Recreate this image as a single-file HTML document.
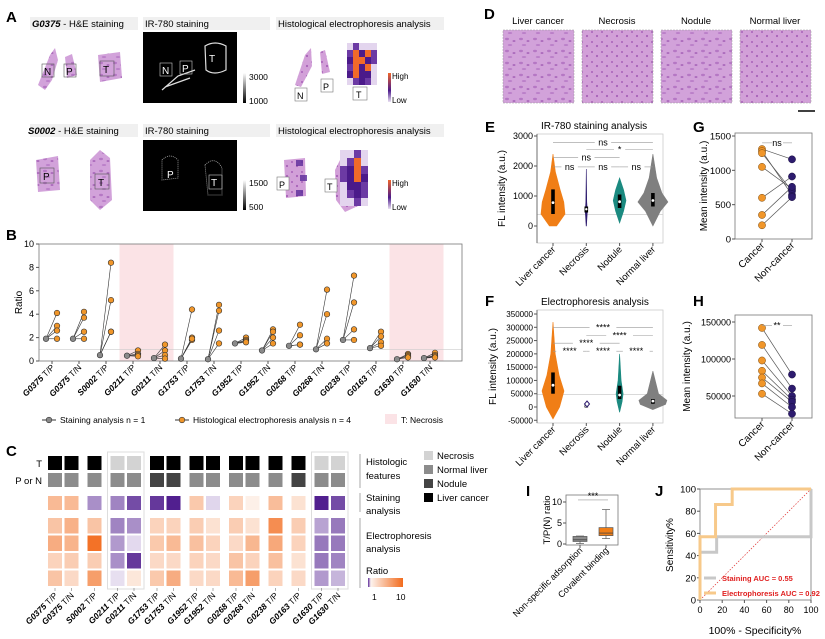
<!DOCTYPE html>
<html><head><meta charset="utf-8"><style>
html,body{margin:0;padding:0;background:#fff}
svg{display:block;font-family:"Liberation Sans",Arial,sans-serif}
</style></head><body>
<svg id="fig" width="825" height="639" viewBox="0 0 825 639" xmlns="http://www.w3.org/2000/svg">
<defs>
<pattern id="he" width="14" height="12" patternUnits="userSpaceOnUse">
<rect width="14" height="12" fill="#d2a2da"/>
<ellipse cx="3" cy="3" rx="2" ry="1.2" fill="#b577c4"/>
<ellipse cx="10" cy="5" rx="1.5" ry="1" fill="#ad6dbd"/>
<ellipse cx="6" cy="9" rx="2.2" ry="1" fill="#bb80c9"/>
</pattern>
<pattern id="he2" width="10" height="10" patternUnits="userSpaceOnUse">
<rect width="10" height="10" fill="#d2a0d8"/>
<circle cx="2" cy="2" r="1" fill="#a862b8"/><circle cx="7" cy="6" r="1.1" fill="#a862b8"/>
</pattern>
<linearGradient id="gcb" x1="0" y1="1" x2="0" y2="0"><stop offset="0" stop-color="#000"/><stop offset="1" stop-color="#fff"/></linearGradient>
<linearGradient id="hlcb" x1="0" y1="1" x2="0" y2="0"><stop offset="0" stop-color="#e9dff2"/><stop offset="0.4" stop-color="#4b1a8a"/><stop offset="1" stop-color="#f0652a"/></linearGradient>
<linearGradient id="rcb" x1="0" y1="0" x2="1" y2="0"><stop offset="0" stop-color="#5b2a9a"/><stop offset="0.08" stop-color="#fdf3ee"/><stop offset="1" stop-color="#f26b1d"/></linearGradient>
</defs>

<g>
<text x="6" y="22" font-size="15" font-weight="bold">A</text>
<rect x="30" y="17" width="108" height="13" fill="#f0f0f0"/>
<text x="32" y="27" font-size="9.5"><tspan font-weight="bold" font-style="italic">G0375</tspan> - H&amp;E staining</text>
<rect x="143" y="17" width="127" height="13" fill="#f0f0f0"/>
<text x="145" y="27" font-size="9.5">IR-780 staining</text>
<rect x="276" y="17" width="168" height="13" fill="#f0f0f0"/>
<text x="278" y="27" font-size="9.5">Histological electrophoresis analysis</text>
<path d="M38 85 L50 55 L55 48 L58 60 L52 80 L45 90 Z" fill="url(#he)"/>
<path d="M65 57 L72 54 L77 75 L67 78 Z" fill="url(#he)"/>
<path d="M98 55 L120 52 L122 78 L100 82 Z" fill="url(#he)"/>
<rect x="42" y="64" width="12" height="13" fill="none" stroke="#555" stroke-width="0.6"/><text x="44" y="75" font-size="10">N</text>
<rect x="64" y="64" width="12" height="13" fill="none" stroke="#555" stroke-width="0.6"/><text x="66" y="75" font-size="10">P</text>
<rect x="100" y="61" width="14" height="15" fill="none" stroke="#555" stroke-width="0.6"/><text x="103" y="73" font-size="10">T</text>
<rect x="143" y="32" width="94" height="71" fill="#000"/>
<path d="M162 90 L178 76 L195 70 M165 87 L190 78 M205 46 Q215 40 226 46 L226 70 Q214 76 206 70 Z" stroke="#ddd" stroke-width="1.2" fill="none"/>
<rect x="160" y="63" width="12" height="13" fill="none" stroke="#ccc" stroke-width="0.6"/><text x="162" y="74" font-size="10" fill="#fff">N</text>
<rect x="180" y="61" width="12" height="13" fill="none" stroke="#ccc" stroke-width="0.6"/><text x="182" y="72" font-size="10" fill="#fff">P</text>
<text x="209" y="62" font-size="10" fill="#fff">T</text>
<rect x="243" y="73" width="3" height="30" fill="url(#gcb)"/>
<text x="249" y="80" font-size="8.5">3000</text><text x="249" y="104" font-size="8.5">1000</text>
<path d="M295 85 L305 55 L311 48 L312 66 L301 87 Z" fill="url(#he2)"/>
<path d="M320 52 L325 50 L330 72 L322 74 Z" fill="url(#he2)"/>
<g id="hm1"></g>
<rect x="295" y="88" width="12" height="13" fill="#fff" stroke="#777" stroke-width="0.6"/><text x="297" y="99" font-size="9">N</text>
<rect x="321" y="79" width="12" height="13" fill="#fff" stroke="#777" stroke-width="0.6"/><text x="323" y="90" font-size="9">P</text>
<rect x="353" y="87" width="14" height="13" fill="#fff" stroke="#777" stroke-width="0.6"/><text x="356" y="98" font-size="9">T</text>
<rect x="388" y="73" width="3" height="29" fill="url(#hlcb)"/>
<text x="392" y="79" font-size="8">High</text><text x="392" y="103" font-size="8">Low</text>

<rect x="30" y="124" width="108" height="13" fill="#f0f0f0"/>
<text x="28" y="134" font-size="9.5"><tspan font-weight="bold" font-style="italic">S0002</tspan> - H&amp;E staining</text>
<rect x="143" y="124" width="127" height="13" fill="#f0f0f0"/>
<text x="145" y="134" font-size="9.5">IR-780 staining</text>
<rect x="276" y="124" width="168" height="13" fill="#f0f0f0"/>
<text x="278" y="134" font-size="9.5">Histological electrophoresis analysis</text>
<path d="M36 160 L58 156 L60 190 L38 192 Z" fill="url(#he)"/>
<path d="M90 160 L100 150 L110 158 L112 200 L100 210 L90 200 Z" fill="url(#he)"/>
<rect x="40" y="168" width="14" height="15" fill="none" stroke="#555" stroke-width="0.6"/><text x="43" y="180" font-size="10">P</text>
<rect x="95" y="174" width="14" height="15" fill="none" stroke="#555" stroke-width="0.6"/><text x="98" y="186" font-size="10">T</text>
<rect x="143" y="140" width="94" height="71" fill="#000"/>
<path d="M162 160 Q170 152 178 160 L178 178 L162 180 Z M205 165 Q215 155 222 168 L222 195 L208 195 Z" stroke="#aaa" stroke-width="0.8" fill="none" stroke-dasharray="1 1"/>
<text x="167" y="178" font-size="10" fill="#fff">P</text>
<rect x="209" y="175" width="13" height="14" fill="none" stroke="#ccc" stroke-width="0.6"/><text x="211" y="186" font-size="10" fill="#fff">T</text>
<rect x="243" y="180" width="3" height="30" fill="url(#gcb)"/>
<text x="249" y="186" font-size="8.5">1500</text><text x="249" y="210" font-size="8.5">500</text>
<path d="M284 160 L305 158 L306 196 L286 198 Z" fill="url(#he2)"/>
<path d="M335 170 L345 150 L356 160 L360 205 L345 212 L336 200 Z" fill="url(#he2)"/>
<g id="hm2"></g>
<rect x="277" y="177" width="12" height="13" fill="#fff" stroke="#777" stroke-width="0.6"/><text x="279" y="188" font-size="9">P</text>
<rect x="325" y="179" width="12" height="13" fill="#fff" stroke="#777" stroke-width="0.6"/><text x="327" y="190" font-size="9">T</text>
<rect x="388" y="180" width="3" height="29" fill="url(#hlcb)"/>
<text x="392" y="186" font-size="8">High</text><text x="392" y="210" font-size="8">Low</text>
</g>

<g id="pb">
<text x="6" y="240" font-size="15" font-weight="bold">B</text>
</g>
<g id="pc">
<text x="6" y="456" font-size="15" font-weight="bold">C</text>
</g>

<g>
<text x="484" y="19" font-size="15" font-weight="bold">D</text>
<text x="538" y="24" font-size="9.5" text-anchor="middle">Liver cancer</text>
<text x="617" y="24" font-size="9.5" text-anchor="middle">Necrosis</text>
<text x="696" y="24" font-size="9.5" text-anchor="middle">Nodule</text>
<text x="775" y="24" font-size="9.5" text-anchor="middle">Normal liver</text>
<rect x="503" y="30" width="71" height="73" fill="url(#he)" stroke="#999" stroke-dasharray="2 1" stroke-width="0.5"/>
<rect x="582" y="30" width="71" height="73" fill="url(#he2)" stroke="#999" stroke-dasharray="2 1" stroke-width="0.5"/>
<rect x="661" y="30" width="71" height="73" fill="url(#he)" stroke="#999" stroke-dasharray="2 1" stroke-width="0.5"/>
<rect x="740" y="30" width="71" height="73" fill="url(#he2)" stroke="#999" stroke-dasharray="2 1" stroke-width="0.5"/>
<line x1="798" y1="111" x2="815" y2="111" stroke="#000" stroke-width="1.5"/>
</g>

<g id="pe"><text x="485" y="132" font-size="15" font-weight="bold">E</text></g>
<g id="pf"><text x="485" y="306" font-size="15" font-weight="bold">F</text></g>
<g id="pg"><text x="693" y="132" font-size="15" font-weight="bold">G</text></g>
<g id="ph"><text x="693" y="306" font-size="15" font-weight="bold">H</text></g>
<g id="pi"><text x="526" y="496" font-size="15" font-weight="bold">I</text></g>
<g id="pj"><text x="655" y="496" font-size="15" font-weight="bold">J</text></g>
</svg>

<script>
const bCategories = ["G0375 T/P","G0375 T/N","S0002 T/P","G0211 T/P","G0211 T/N","G1753 T/P","G1753 T/N","G1952 T/P","G1952 T/N","G0268 T/P","G0268 T/N","G0238 T/P","G0163 T/P","G1630 T/P","G1630 T/N"];
const bStaining = [1.9,1.9,0.5,0.45,0.25,0.2,0.15,1.5,0.9,1.3,1.0,1.8,1.1,0.15,0.25];
const bElectro = [[4.1,3.0,2.6,1.9],[4.2,3.7,2.5,1.9],[8.4,5.2,2.5,2.5],[0.9,0.6,0.5,0.4],[1.4,0.9,0.5,0.2],[4.4,2.0,1.8,1.9],[4.8,4.3,2.6,1.5],[2.0,1.8,1.7,1.6],[2.7,2.5,2.0,1.5],[3.1,2.2,1.4,1.4],[6.1,4.0,1.9,1.5],[7.3,5.0,2.7,1.8],[2.5,2.1,1.6,1.3],[0.6,0.5,0.4,0.3],[0.7,0.5,0.4,0.3]];
const bNecrosis = [3,4,13,14];
const bYTicks = [0,2,4,6,8,10];
const cTumorFeature = ["cancer","cancer","cancer","necrosis","necrosis","cancer","cancer","cancer","cancer","cancer","cancer","cancer","cancer","necrosis","necrosis"];
const cPairFeature = ["normal","normal","normal","normal","normal","nodule","nodule","normal","normal","normal","normal","normal","nodule","normal","normal"];
const cElectro = [[1.6,2.4],[2.2,2.1],[1.6,8.5],[0.45,0.55],[0.5,0.92],[1.3,1.5],[1.3,1.9],[1.4,1.7],[1.1,1.3],[1.4,1.2],[1.1,2.0],[4.5,2.6],[1.4,1.3],[0.6,0.4],[0.4,0.4]];
const cElectro2 = [[1.3,1.6],[1.4,1.2],[1.4,3.2],[0.5,0.95],[0.2,1.05],[1.2,1.5],[1.2,2.4],[1.3,1.2],[1.2,1.2],[1.6,1.9],[1.3,3.2],[1.7,1.3],[1.1,1.2],[0.4,0.55],[0.45,0.7]];
const eCats = ["Liver cancer","Necrosis","Nodule","Normal liver"];
const eMedian = [780,560,810,850];
const eQ1 = [400,450,600,650];
const eQ3 = [1220,650,1050,1100];
const eMin = [0,0,100,0];
const eMax = [2400,1900,1600,2400];
const eWidth = [[0,0.3],[400,1],[800,0.9],[1200,0.6],[1800,0.2],[2400,0]];
const eWidthN = [[0,0.05],[500,0.35],[800,0.15],[1900,0]];
const eWidthNod = [[100,0],[500,0.5],[850,0.8],[1200,0.5],[1600,0]];
const eWidthNorm = [[0,0],[500,0.5],[800,1],[1100,0.6],[1600,0.25],[2400,0]];
const eYTicks = [0,1000,2000,3000];
const fMedian = [82000,3000,45000,22000];
const fQ1 = [50000,1000,30000,12000];
const fQ3 = [130000,6000,80000,30000];
const fMin = [-45000,0,-20000,-10000];
const fMax = [320000,8000,200000,135000];
const fYTicks = [-50000,0,50000,100000,150000,200000,250000,300000,350000];
const gCancer = [1310,1280,1250,1050,600,350,200];
const gNon = [1160,640,700,730,910,760,610];
const gYTicks = [0,500,1000,1500];
const hCancer = [142000,119000,98000,84000,75000,67000,53000];
const hNon = [79000,60000,50000,45000,42000,35000,26000];
const hYTicks = [50000,100000,150000];
const iCats = ["Non-specific adsorption","Covalent binding"];
const iMin = [0.1,1.3], iQ1=[0.6,2.0], iMed=[1.0,2.6], iQ3=[1.8,3.9], iMax=[1.9,8.2];
const jStainX = [0,0,15,15,100,100], jStainY = [0,43,43,57,57,100];
const jElecX = [0,0,14,14,29,29,100], jElecY = [0,57,57,86,86,100,100];
const jTicks = [0,20,40,60,80,100];
const hm1 = [[0,1,0,0,0],[1,3,2,3,1],[2,3,3,2,1],[1,3,2,3,0],[2,3,2,2,0],[0,1,2,1,0]];
const hm2 = [[0,0,1,0],[0,1,3,0],[1,2,3,1],[1,2,3,2],[0,2,2,1],[0,1,2,1],[0,0,1,0]];

const NS="http://www.w3.org/2000/svg";
function mk(tag,attrs,parent){const e=document.createElementNS(NS,tag);for(const k in attrs)e.setAttribute(k,attrs[k]);parent.appendChild(e);return e;}
function txt(s,attrs,parent){const e=mk("text",attrs,parent);e.textContent=s;return e;}
function lerp(a,b,t){return a.map((v,i)=>Math.round(v+(b[i]-v)*t));}
function ratioColor(r){if(r>=1){const t=Math.pow(Math.min(1,Math.log10(r)),0.7);return "rgb("+lerp([253,240,232],[242,107,29],t).join(",")+")";}const t=Math.pow(Math.min(1,-Math.log10(r)/0.85),0.8);return "rgb("+lerp([240,234,246],[77,26,140],t).join(",")+")";}
const hmCols=["#e3d5ee","#6c3aa4","#4b1a8a","#f06a2a"];

(function(){const g1=document.getElementById("hm1");hm1.forEach((row,r)=>row.forEach((v,c)=>{const q=mk("rect",{x:347+c*6,y:43+r*7,width:6,height:7,fill:hmCols[v]},g1);

}));
const g2=document.getElementById("hm2");hm2.forEach((row,r)=>row.forEach((v,c)=>{const q=mk("rect",{x:340+c*7,y:150+r*8,width:7,height:8,fill:hmCols[v]},g2);

}));
[[296,160],[300,175],[296,190]].forEach(p=>{mk("rect",{x:p[0],y:p[1],width:7,height:6,fill:"#5b2a9a",opacity:0.8},g2);});
})();

(function(){const g=document.getElementById("pb");
const L=39,R=462,T=244,B=361;const bx=i=>52+27*i;const by=v=>B-(B-T)*v/10;
bNecrosis.forEach(i=>{const r=mk("rect",{x:bx(i)-13.5,y:T,width:27,height:B-T,fill:"#fbe3e6"},g);

});
mk("line",{x1:L,x2:R,y1:by(1),y2:by(1),stroke:"#ccc","stroke-width":0.7},g);
mk("rect",{x:L,y:T,width:R-L,height:B-T,fill:"none",stroke:"#777","stroke-width":0.8},g);
bYTicks.forEach(v=>{mk("line",{x1:L-3,x2:L,y1:by(v),y2:by(v),stroke:"#555"},g);const t=txt(String(v),{x:L-5,y:by(v)+3,"font-size":9,"text-anchor":"end"},g);

});
const yt=txt("Ratio",{x:0,y:0,"font-size":10,"text-anchor":"middle",transform:"translate(22,"+((T+B)/2)+") rotate(-90)"},g);


bCategories.forEach((c,i)=>{const x=bx(i);mk("line",{x1:x,x2:x,y1:B,y2:B+3,stroke:"#555"},g);
const p=c.split(" ");const t=mk("text",{"font-size":8.5,"text-anchor":"end",transform:"translate("+(x+3)+","+(B+7)+") rotate(-45)"},g);
const s1=mk("tspan",{"font-weight":"bold","font-style":"italic"},t);s1.textContent=p[0];const s2=mk("tspan",{},t);s2.textContent=" "+p[1];


const gx=x-6,ox=x+5;
bElectro[i].forEach(v=>{mk("line",{x1:gx,y1:by(bStaining[i]),x2:ox,y2:by(v),stroke:"#333","stroke-width":0.6},g);});
bElectro[i].forEach(v=>{const c2=mk("circle",{cx:ox,cy:by(v),r:2.8,fill:"#f0962a",stroke:"#333","stroke-width":0.6},g);

});
const c1=mk("circle",{cx:gx,cy:by(bStaining[i]),r:2.8,fill:"#8a8a8a",stroke:"#333","stroke-width":0.6},g);

});
const lg=mk("g",{},g);
mk("line",{x1:42,x2:56,y1:420,y2:420,stroke:"#333"},lg);mk("circle",{cx:49,cy:420,r:2.8,fill:"#8a8a8a",stroke:"#333","stroke-width":0.6},lg);
txt("Staining analysis n = 1",{x:60,y:423,"font-size":8.5},lg);
mk("line",{x1:175,x2:189,y1:420,y2:420,stroke:"#333"},lg);mk("circle",{cx:182,cy:420,r:2.8,fill:"#f0962a",stroke:"#333","stroke-width":0.6},lg);
txt("Histological electrophoresis analysis n = 4",{x:193,y:423,"font-size":8.5},lg);
mk("rect",{x:385,y:414,width:12,height:10,fill:"#fbe3e6"},lg);txt("T: Necrosis",{x:401,y:423,"font-size":8.5},lg);
})();

(function(){const g=document.getElementById("pc");
const xs=[];let x=48;bCategories.forEach((c,i)=>{if(i>0){x+= (c.split(" ")[0]===bCategories[i-1].split(" ")[0])?16.5:23;}xs.push(x);});
const W=14;const featCol={cancer:"#000",necrosis:"#d3d3d3",normal:"#8c8c8c",nodule:"#444"};
[[3,4],[13,14]].forEach(p=>{mk("rect",{x:xs[p[0]]-3,y:452,width:xs[p[1]]-xs[p[0]]+W+6,height:137,fill:"none",stroke:"#ddd","stroke-width":1},g);});
txt("T",{x:42,y:467,"font-size":9.5,"text-anchor":"end"},g);txt("P or N",{x:42,y:484,"font-size":9.5,"text-anchor":"end"},g);
bCategories.forEach((c,i)=>{const X=xs[i];
const a=mk("rect",{x:X,y:456,width:W,height:14,fill:featCol[cTumorFeature[i]]},g);

const b=mk("rect",{x:X,y:473,width:W,height:14,fill:featCol[cPairFeature[i]]},g);

const s=mk("rect",{x:X,y:496,width:W,height:14,fill:ratioColor(bStaining[i])},g);

const ev=[cElectro[i][0],cElectro[i][1],cElectro2[i][0],cElectro2[i][1]];
ev.forEach((v,r)=>{const e=mk("rect",{x:X,y:518+r*17.5,width:W,height:15.5,fill:ratioColor(v)},g);
});
mk("line",{x1:X+W/2,x2:X+W/2,y1:588,y2:591,stroke:"#777","stroke-width":0.6},g);
const p=c.split(" ");const t=mk("text",{"font-size":8.5,"text-anchor":"end",transform:"translate("+(X+W/2+3)+",596) rotate(-45)"},g);
const s1=mk("tspan",{"font-weight":"bold","font-style":"italic"},t);s1.textContent=p[0];const s2=mk("tspan",{},t);s2.textContent=" "+p[1];
});
[[454,488],[493,512],[518,588]].forEach(r=>mk("line",{x1:360,x2:360,y1:r[0],y2:r[1],stroke:"#aaa","stroke-width":1},g));
[["Histologic",465],["features",479],["Staining",501],["analysis",514],["Electrophoresis",539],["analysis",552],["Ratio",574]].forEach(a=>txt(a[0],{x:366,y:a[1],"font-size":9.5},g));
[["Necrosis","#d3d3d3",458],["Normal liver","#8c8c8c",472],["Nodule","#444",486],["Liver cancer","#000",500]].forEach(a=>{const q=mk("rect",{x:424,y:a[2]-7,width:9,height:9,fill:a[1]},g);

txt(a[0],{x:437,y:a[2]+1,"font-size":9.5},g);});
const cb=mk("rect",{x:368,y:578,width:35,height:9,fill:"url(#rcb)"},g);
txt("1",{x:372,y:600,"font-size":8.5},g);txt("10",{x:396,y:600,"font-size":8.5},g);
})();

function violin(gid,cfg){const g=document.getElementById(gid);
const L=537,R=663,T=cfg.T,B=cfg.B;const x=i=>553+33.3*i;const y=v=>cfg.y0-(cfg.y0-cfg.y1)*(v-cfg.v0)/(cfg.v1-cfg.v0);
const tt=txt(cfg.title,{x:541,y:T-5,"font-size":10},g);
mk("rect",{x:L,y:T,width:R-L,height:B-T,fill:"none",stroke:"#ccc","stroke-width":0.8},g);
mk("line",{x1:L,x2:R,y1:y(cfg.hline),y2:y(cfg.hline),stroke:"#ccc","stroke-width":0.7},g);
mk("line",{x1:L,x2:L,y1:T,y2:B,stroke:"#555","stroke-width":0.8},g);
cfg.ticks.forEach(v=>{mk("line",{x1:L-3,x2:L,y1:y(v),y2:y(v),stroke:"#555"},g);const t=txt(String(v),{x:L-4,y:y(v)+3,"font-size":cfg.tfs,"text-anchor":"end"},g);
});
const yt=txt("FL intensity (a.u.)",{"font-size":10,"text-anchor":"middle",transform:"translate("+cfg.ytx+","+((T+B)/2)+") rotate(-90)"},g);

const cols=["#f07e16","#2d1b6e","#1b8a80","#7f7f7f"];
eCats.forEach((c,i)=>{const prof=cfg.prof[i];const hw=cfg.hw[i];
let d="";prof.forEach((p,k)=>{d+=(k?"L":"M")+(x(i)+p[1]*hw)+" "+y(p[0]);});
for(let k=prof.length-1;k>=0;k--)d+="L"+(x(i)-prof[k][1]*hw)+" "+y(prof[k][0]);
const v=mk("path",{d:d+"Z",fill:cols[i],stroke:cols[i],"stroke-width":0.6},g);

const bx=mk("rect",{x:x(i)-1.8,y:y(cfg.q3[i]),width:3.6,height:Math.max(2,y(cfg.q1[i])-y(cfg.q3[i])),fill:"#000"},g);

const m=mk("circle",{cx:x(i),cy:y(cfg.med[i]),r:1.4,fill:"#fff",stroke:i==1?"#000":"none","stroke-width":0.5},g);

mk("line",{x1:x(i),x2:x(i),y1:B,y2:B+3,stroke:"#555"},g);
const t=txt(c,{"font-size":9.5,"text-anchor":"end",transform:"translate("+(x(i)+3)+","+(B+7)+") rotate(-45)"},g);
});
cfg.sig.forEach(s=>{const yy=y(s[2]);const xa=x(s[0]),xb=x(s[1]),xm=(xa+xb)/2,hw=s[3].length*2.6+3;
mk("line",{x1:xa,x2:xm-hw,y1:yy,y2:yy,stroke:"#999","stroke-width":0.6},g);mk("line",{x1:xm+hw,x2:xb,y1:yy,y2:yy,stroke:"#999","stroke-width":0.6},g);
const t=txt(s[3],{x:xm,y:yy+3,"font-size":9,"text-anchor":"middle"},g);});
}
violin("pe",{T:134,B:243,y0:226,y1:136,v0:0,v1:3000,ticks:eYTicks,hline:380,ytx:505,tfs:9,title:"IR-780 staining analysis",
prof:[eWidth,eWidthN,eWidthNod,eWidthNorm],hw:[12,3,8,15],med:eMedian,q1:eQ1,q3:eQ3,
sig:[[0,3,2780,"ns"],[1,3,2550,"*"],[0,2,2280,"ns"],[0,1,1970,"ns"],[1,2,1970,"ns"],[2,3,1970,"ns"]]});
const fProfC=[[fMin[0],0],[0,0.6],[60000,1],[120000,0.55],[200000,0.2],[fMax[0],0]];
const fProfN=[[fMin[1],0],[fMax[1],0]];
const fProfNod=[[fMin[2],0],[20000,0.5],[50000,0.7],[100000,0.3],[fMax[2],0]];
const fProfNorm=[[fMin[3],0],[10000,0.9],[25000,1],[50000,0.4],[fMax[3],0]];
violin("pf",{T:310,B:423,y0:407,y1:314,v0:0,v1:350000,ticks:fYTicks,hline:47000,ytx:496,tfs:8,title:"Electrophoresis analysis",
prof:[fProfC,fProfN,fProfNod,fProfNorm],hw:[11,1,5,14],med:fMedian,q1:fQ1,q3:fQ3,
sig:[[0,3,300000,"****"],[1,3,270000,"****"],[0,2,240000,"****"],[0,1,210000,"****"],[1,2,210000,"****"],[2,3,210000,"****"]]});
(function(){const g=document.getElementById("pf");mk("path",{d:"M587 401 l2.5 3 l-2.5 3 l-2.5 -3 Z",fill:"#fff",stroke:"#2d1b6e","stroke-width":1},g);})();

function paired(gid,cfg){const g=document.getElementById(gid);
const L=735,R=812,T=cfg.T,B=cfg.B;const x0=762,x1=792;const y=v=>cfg.y0-(cfg.y0-cfg.y1)*(v-cfg.v0)/(cfg.v1-cfg.v0);
mk("rect",{x:L,y:T,width:R-L,height:B-T,fill:"none",stroke:"#777","stroke-width":0.8},g);
cfg.ticks.forEach(v=>{mk("line",{x1:L-3,x2:L,y1:y(v),y2:y(v),stroke:"#555"},g);const t=txt(String(v),{x:L-4,y:y(v)+3.5,"font-size":cfg.tfs,"text-anchor":"end"},g);
});
const yt=txt("Mean intensity (a.u.)",{"font-size":10,"text-anchor":"middle",transform:"translate("+cfg.ytx+","+((T+B)/2)+") rotate(-90)"},g);

cfg.a.forEach((v,i)=>mk("line",{x1:x0,y1:y(v),x2:x1,y2:y(cfg.b[i]),stroke:"#555","stroke-width":0.7},g));
cfg.a.forEach(v=>{const c=mk("circle",{cx:x0,cy:y(v),r:3.6,fill:"#f0962a",stroke:"#7a4a10","stroke-width":0.5},g);
});
cfg.b.forEach(v=>{const c=mk("circle",{cx:x1,cy:y(v),r:3.6,fill:"#2d1b6e",stroke:"#1a0f40","stroke-width":0.5},g);
});
const sy=y(cfg.sigv);mk("line",{x1:x0,x2:772,y1:sy,y2:sy,stroke:"#999","stroke-width":0.6},g);mk("line",{x1:783,x2:x1,y1:sy,y2:sy,stroke:"#999","stroke-width":0.6},g);
txt(cfg.sig,{x:777,y:sy+3,"font-size":9,"text-anchor":"middle"},g);
[["Cancer",x0],["Non-cancer",x1]].forEach(a=>{mk("line",{x1:a[1],x2:a[1],y1:B,y2:B+3,stroke:"#555"},g);
const t=txt(a[0],{"font-size":10,"text-anchor":"end",transform:"translate("+(a[1]+3)+","+(B+7)+") rotate(-45)"},g);
});}
paired("pg",{T:133,B:239,y0:239,y1:136,v0:0,v1:1500,ticks:gYTicks,a:gCancer,b:gNon,sigv:1400,sig:"ns",ytx:707,tfs:9.5});
paired("ph",{T:315,B:418,y0:433,y1:322,v0:0,v1:150000,ticks:hYTicks,a:hCancer,b:hNon,sigv:145000,sig:"**",ytx:690,tfs:9});

(function(){const g=document.getElementById("pi");const L=566,R=618,T=495,B=545;const y=v=>544-4.2*v;const xs=[580,606];
mk("rect",{x:L,y:T,width:R-L,height:B-T,fill:"none",stroke:"#777","stroke-width":0.8},g);
[0,5,10].forEach(v=>{mk("line",{x1:L-3,x2:L,y1:y(v),y2:y(v),stroke:"#555"},g);txt(String(v),{x:L-4,y:y(v)+3,"font-size":9,"text-anchor":"end"},g);});
const yt=txt("T/P(N) ratio",{"font-size":9.5,"text-anchor":"middle",transform:"translate(550,520) rotate(-90)"},g);

const cols=["#8c8c8c","#f07e16"];
iCats.forEach((c,i)=>{const X=xs[i];mk("line",{x1:X,x2:X,y1:y(iMin[i]),y2:y(iMax[i]),stroke:"#555","stroke-width":0.7},g);
mk("line",{x1:X-4,x2:X+4,y1:y(iMax[i]),y2:y(iMax[i]),stroke:"#555","stroke-width":0.7},g);mk("line",{x1:X-4,x2:X+4,y1:y(iMin[i]),y2:y(iMin[i]),stroke:"#555","stroke-width":0.7},g);
const b=mk("rect",{x:X-7,y:y(iQ3[i]),width:14,height:y(iQ1[i])-y(iQ3[i]),fill:cols[i],stroke:"#555","stroke-width":0.7},g);

mk("line",{x1:X-7,x2:X+7,y1:y(iMed[i]),y2:y(iMed[i]),stroke:"#444","stroke-width":0.8},g);
mk("line",{x1:X,x2:X,y1:B,y2:B+3,stroke:"#555"},g);
const t=txt(c,{"font-size":9,"text-anchor":"end",transform:"translate("+(X+3)+","+(B+6)+") rotate(-45)"},g);
});
mk("line",{x1:578,x2:608,y1:y(10.5),y2:y(10.5),stroke:"#999","stroke-width":0.6},g);txt("***",{x:593,y:y(10.5)-1,"font-size":9,"text-anchor":"middle"},g);
})();

(function(){const g=document.getElementById("pj");const L=700,R=811,T=489,B=600;const x=v=>L+(R-L)*v/100,y=v=>B-(B-T)*v/100;
mk("rect",{x:L,y:T,width:R-L,height:B-T,fill:"none",stroke:"#777","stroke-width":0.8},g);
mk("line",{x1:L,y1:B,x2:R,y2:T,stroke:"#e03030","stroke-width":0.7,"stroke-dasharray":"1.5 1.5"},g);
jTicks.forEach(v=>{mk("line",{x1:L-3,x2:L,y1:y(v),y2:y(v),stroke:"#555"},g);txt(String(v),{x:L-4,y:y(v)+3.5,"font-size":9.5,"text-anchor":"end"},g);
mk("line",{x1:x(v),x2:x(v),y1:B,y2:B+3,stroke:"#555"},g);txt(String(v),{x:x(v),y:B+13,"font-size":9,"text-anchor":"middle"},g);});
const p1=mk("polyline",{points:jStainX.map((v,i)=>x(v)+","+y(jStainY[i])).join(" "),fill:"none",stroke:"#c8c8c8","stroke-width":3},g);

const p2=mk("polyline",{points:jElecX.map((v,i)=>x(v)+","+y(jElecY[i])).join(" "),fill:"none",stroke:"#f7c98a","stroke-width":3},g);

mk("line",{x1:704,x2:716,y1:578,y2:578,stroke:"#c8c8c8","stroke-width":3},g);
mk("line",{x1:704,x2:716,y1:593,y2:593,stroke:"#f7c98a","stroke-width":3},g);
const a=txt("Staining AUC = 0.55",{x:722,y:581,"font-size":7.5,"font-weight":"bold",fill:"#e02020"},g);
const b=txt("Electrophoresis AUC = 0.92",{x:722,y:596,"font-size":7.5,"font-weight":"bold",fill:"#e02020"},g);
const xt=txt("100% - Specificity%",{x:755,y:634,"font-size":10.5,"text-anchor":"middle"},g);
const yt=txt("Sensitivity%",{"font-size":10,"text-anchor":"middle",transform:"translate(673,545) rotate(-90)"},g);
})();
</script>
</body></html>
